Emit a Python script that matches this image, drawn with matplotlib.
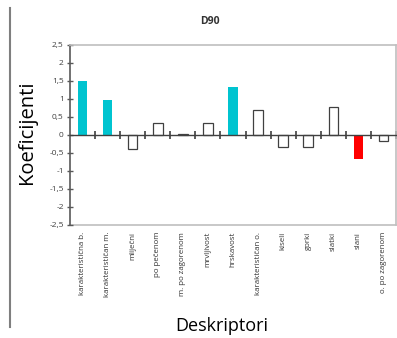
import matplotlib.pyplot as plt
from matplotlib.lines import Line2D
from matplotlib.ticker import FixedLocator, FuncFormatter

# descriptor names and PLS coefficients
descriptors = ["karakteristična b.", "karakterističan m.", "mliječni", "po pečenom",
               "m. po zagorenom", "mrvljivost", "hrskavost", "karakterističan o.",
               "kiseli", "gorki", "slatki", "slani", "o. po zagorenom"]
coefs = [1.50, 0.97, -0.38, 0.33, 0.03, 0.34, 1.32, 0.69, -0.33, -0.33, 0.77, -0.66, -0.18]
highlight = ["cyan", "cyan", None, None, None, None, "cyan", None, None, None, None, "red", None]

y_ticks = [-2.5, -2, -1.5, -1, -0.5, 0, 0.5, 1, 1.5, 2, 2.5]

plt.rcParams['font.family'] = ['Open Sans', 'DejaVu Sans']

fig = plt.figure(figsize=(3.97, 3.38), dpi=100)
ax = fig.add_axes([70 / 397, 1 - 225 / 338, 326 / 397, 180 / 338])

colour_map = {"cyan": "#00C4D0", "red": "#FF0000"}
x = list(range(len(descriptors)))
for xi, val, hl in zip(x, coefs, highlight):
    if hl:
        ax.bar(xi, val, width=0.38, color=colour_map[hl], edgecolor="none", zorder=2)
    else:
        ax.bar(xi, val, width=0.38, facecolor="white", edgecolor="#404040",
               linewidth=0.9, zorder=2)

ax.set_xlim(-0.5, len(descriptors) - 0.5)
ax.set_ylim(-2.5, 2.5)

# y axis
ax.set_yticks(y_ticks)
ax.yaxis.set_major_formatter(FuncFormatter(lambda v, p: f"{v:g}".replace(".", ",")))
ax.tick_params(axis="y", direction="inout", length=5, width=1, color="#595959",
               labelsize=6, pad=2, labelcolor="#404040")
ax.spines["left"].set_color("#595959")
ax.spines["left"].set_linewidth(1.2)

# x axis at zero with crossing ticks between categories
ax.spines["bottom"].set_position(("data", 0))
ax.spines["bottom"].set_color("#404040")
ax.spines["bottom"].set_linewidth(1.0)
ax.spines["bottom"].set_zorder(3)
ax.set_xticks([])
ax.xaxis.set_minor_locator(FixedLocator([i + 0.5 for i in x[:-1]] + [len(descriptors) - 0.5]))
ax.tick_params(axis="x", which="minor", direction="inout", length=6, width=1.2,
               color="#404040")

for s in ["top", "right"]:
    ax.spines[s].set_color("#BFBFBF")
    ax.spines[s].set_linewidth(1.2)

# category labels along the bottom frame
sec = ax.secondary_xaxis(0)
sec.set_xticks(x)
sec.set_xticklabels(descriptors, rotation=90, fontsize=5.7, color="#333333")
sec.tick_params(length=0, pad=5)
sec.spines["bottom"].set_color("#BFBFBF")
sec.spines["bottom"].set_linewidth(1.2)

fig.text(210 / 397, 1 - 22 / 338, "D90", fontsize=7.5, fontweight="bold", color="#333333",
         ha="center", va="center")
fig.text(27 / 397, 1 - 132 / 338, "Koeficijenti", fontsize=14.5, rotation=90,
         ha="center", va="center")
fig.text(222 / 397, 1 - 326 / 338, "Deskriptori", fontsize=13, ha="center", va="center")

fig.add_artist(Line2D([9.5 / 397, 9.5 / 397], [1 - 8 / 338, 1 - 327 / 338],
                      transform=fig.transFigure, color="#7F7F7F", linewidth=1.5))

fig.savefig("out.png", dpi=100)
